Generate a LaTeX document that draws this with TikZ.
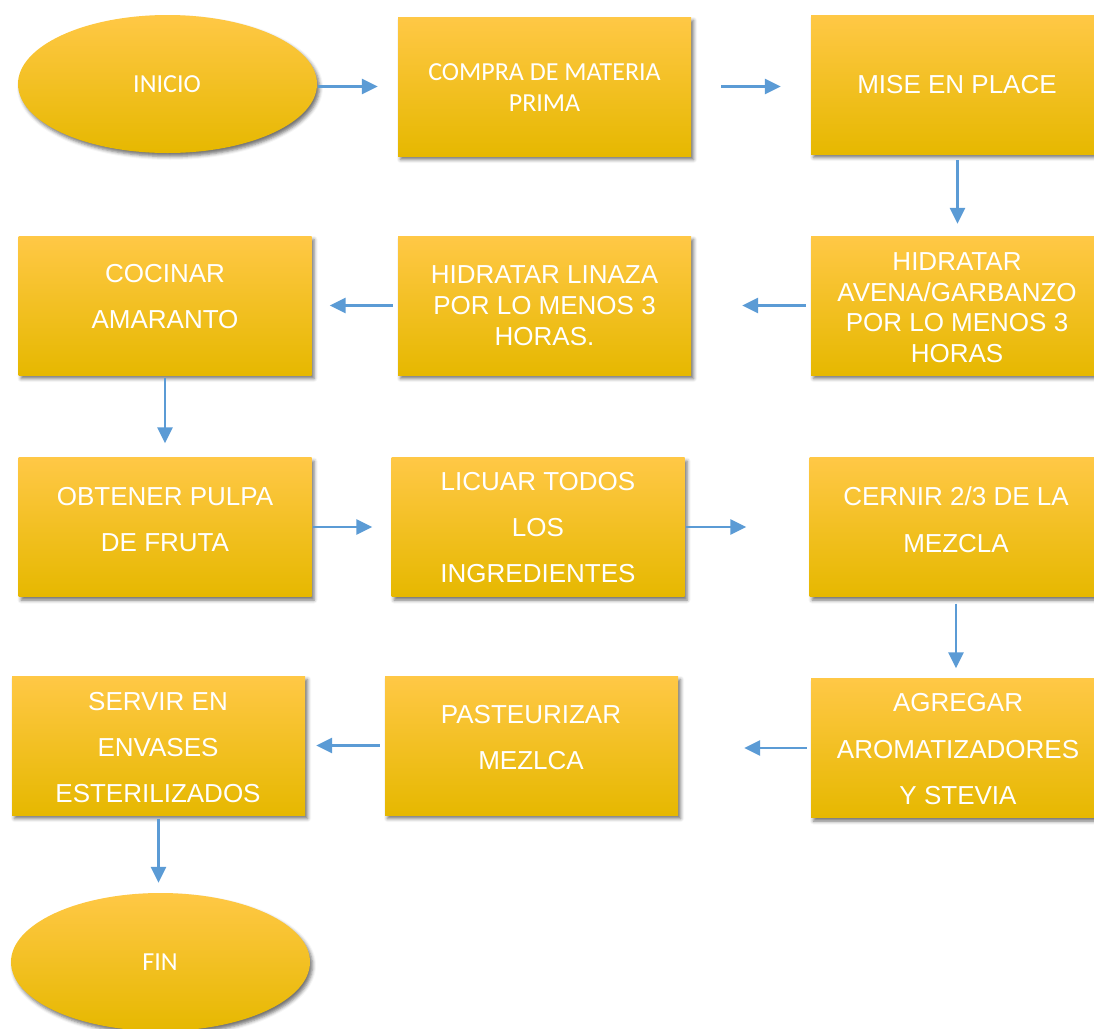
\documentclass[tikz,border=0pt]{standalone}
\usepackage{fontspec}
\setmainfont{Liberation Sans}
\newfontfamily\calibrifont{Carlito}
\usetikzlibrary{shapes.geometric,shadows.blur,arrows.meta}

\definecolor{goldtop}{HTML}{FFC846}
\definecolor{goldmid}{HTML}{FFC600}
\definecolor{goldbot}{HTML}{E6B800}
\definecolor{arrowblue}{HTML}{5B9BD5}

\tikzset{
  gold/.style={top color=goldtop, middle color=goldmid, bottom color=goldbot,
    draw=none, inner sep=0pt,
    blur shadow={shadow xshift=2.5pt, shadow yshift=-3.5pt, shadow blur radius=3.5pt, shadow opacity=55}},
  procbox/.style={gold, rectangle, minimum width=293pt, minimum height=139pt},
  terminal/.style={gold, ellipse, minimum width=299pt, minimum height=138pt},
  txt/.style={text=white, align=center, inner sep=0pt, font=\fontsize{26}{46}\selectfont},
  txttight/.style={txt, font=\fontsize{26}{31}\selectfont},
  txtcal/.style={txt, font=\calibrifont\fontsize{26}{31}\selectfont},
  arr/.style={draw=arrowblue, line width=2.8pt, -{Triangle[length=16pt,width=15pt]}}
}

\begin{document}
\begin{tikzpicture}[x=1pt,y=-1pt]
\useasboundingbox (0,0) rectangle (1094,1028);
\clip (0,0) rectangle (1094,1028);

% shapes
\node[terminal] (inicio) at (167.5,84) {};
\node[procbox] (compra) at (544.5,86.5) {};
\node[procbox] (mise) at (957.5,84.5) {};
\node[procbox] (avena) at (957.5,305.5) {};
\node[procbox] (linaza) at (544.5,305.5) {};
\node[procbox] (cocinar) at (165,305.5) {};
\node[procbox] (obtener) at (165,527) {};
\node[procbox] (licuar) at (538,527) {};
\node[procbox] (cernir) at (956,527) {};
\node[procbox] (agregar) at (957.5,748) {};
\node[procbox] (pasteurizar) at (531.5,745.5) {};
\node[procbox] (servir) at (158.5,745.5) {};
\node[terminal] (fin) at (160.5,962) {};

% labels
\node[txtcal] (inicio-t) at (167,84) {INICIO};
\node[txtcal] (compra-t) at (544.5,87.5) {COMPRA DE MATERIA\\PRIMA};
\node[txt] (mise-t) at (957,85) {MISE EN PLACE};
\node[txt, font=\fontsize{26}{30.5}\selectfont] (avena-t) at (957,307.5) {HIDRATAR\\AVENA/GARBANZO\\POR LO MENOS 3\\HORAS};
\node[txttight] (linaza-t) at (544.5,306) {HIDRATAR LINAZA\\POR LO MENOS 3\\HORAS.};
\node[txt] (cocinar-t) at (165,297) {COCINAR\\AMARANTO};
\node[txt] (obtener-t) at (165,519.5) {OBTENER PULPA\\DE FRUTA};
\node[txt] (licuar-t) at (538,528) {LICUAR TODOS\\LOS\\INGREDIENTES};
\node[txt, font=\fontsize{26}{47}\selectfont] (cernir-t) at (956,519.5) {CERNIR 2/3 DE LA\\MEZCLA};
\node[txt, font=\fontsize{26}{46.5}\selectfont] (agregar-t) at (958,749.5) {AGREGAR\\AROMATIZADORES\\Y STEVIA};
\node[txt] (pasteurizar-t) at (531,738) {PASTEURIZAR\\MEZLCA};
\node[txt] (servir-t) at (158,748) {SERVIR EN\\ENVASES\\ESTERILIZADOS};
\node[txtcal] (fin-t) at (160,962) {FIN};

% connectors
\draw[arr, shorten <=1pt, shorten >=20pt] (inicio.east |- compra.west) -- (compra.west);
\draw[arr, shorten <=30pt, shorten >=30pt] (compra.east) -- (mise.west |- compra.east);
\draw[arr, shorten <=6pt, shorten >=12pt] (mise.south) -- (avena.north);
\draw[arr, shorten <=5pt, shorten >=51pt] (avena.west) -- (linaza.east);
\draw[arr, shorten <=5pt, shorten >=18pt] (linaza.west) -- (cocinar.east);
\draw[arr, shorten <=3pt, shorten >=14pt] (cocinar.south) -- (obtener.north);
\draw[arr, shorten <=1pt, shorten >=19pt] (obtener.east) -- (licuar.west);
\draw[arr, shorten <=1pt, shorten >=63pt] (licuar.east) -- (cernir.west);
\draw[arr, shorten <=7pt, shorten >=10pt] (cernir.south) -- (agregar.north -| cernir.south);
\draw[arr, shorten <=4pt, shorten >=66pt] (agregar.west) -- (pasteurizar.east |- agregar.west);
\draw[arr, shorten <=5pt, shorten >=11pt] (pasteurizar.west) -- (servir.east);
\draw[arr, shorten <=4pt, shorten >=10pt] (servir.south) -- (fin.north -| servir.south);
\end{tikzpicture}
\end{document}
